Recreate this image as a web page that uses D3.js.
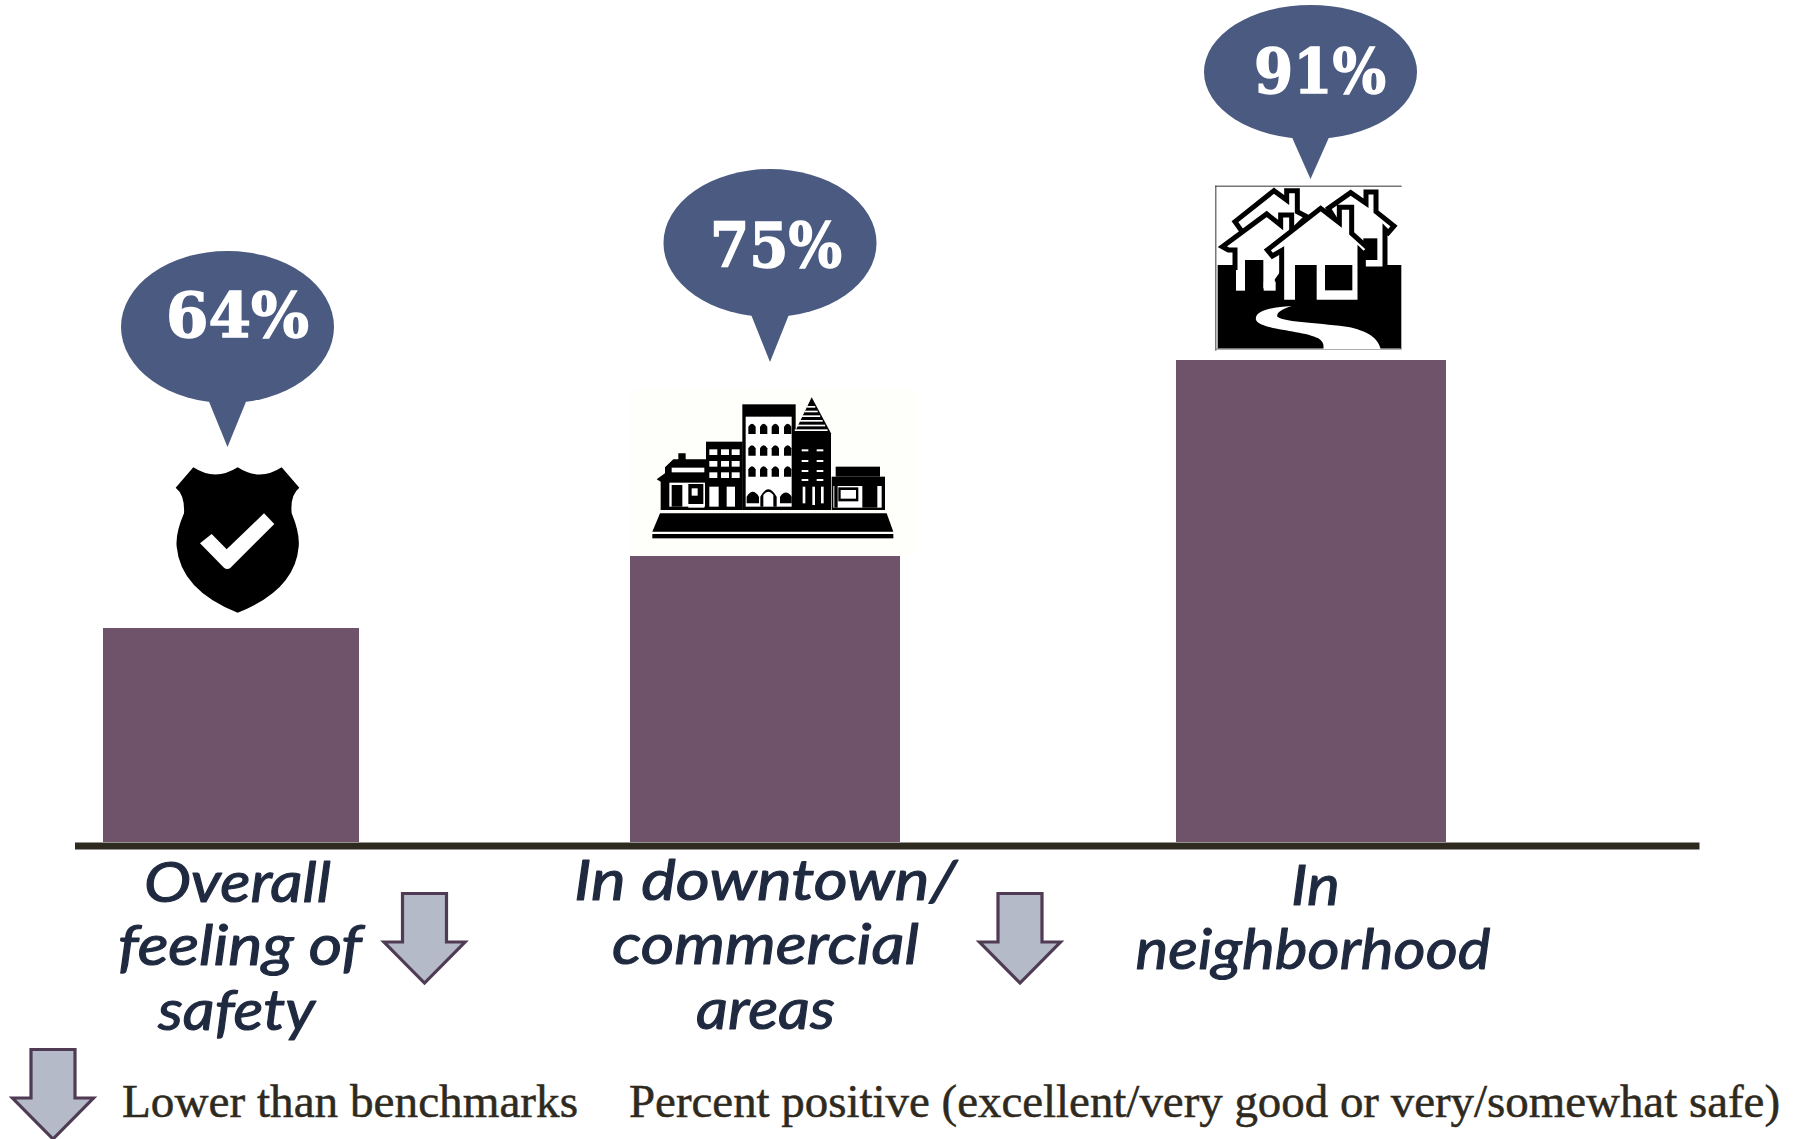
<!DOCTYPE html>
<html><head><meta charset="utf-8">
<script src="https://cdn.jsdelivr.net/npm/d3@7"></script>
<style>html,body{margin:0;padding:0;background:#fff;overflow:hidden}svg{display:block}</style>
</head><body><div id="chart"></div>
<script>
// ---- data ----
const categories = ["Overall feeling of safety", "In downtown/ commercial areas", "In neighborhood"];
const categoryLines = [["Overall", "feeling of", "safety"], ["In downtown/", "commercial", "areas"], ["In", "neighborhood"]];
const percentPositive = [64, 75, 91];
const lowerThanBenchmarks = [true, true, false];
const legendArrowLabel = "Lower than benchmarks";
const legendNote = "Percent positive (excellent/very good or very/somewhat safe)";

// ---- layout ----
const W = 1797, H = 1139, baseY = 842;
const svg = d3.select("#chart").append("svg").attr("width", W).attr("height", H);
svg.append("rect").attr("width", W).attr("height", H).attr("fill", "#fff");

// The source bars are pictorial, not proportional: a piecewise scale reproduces their heights.
const y = d3.scaleLinear().domain([0, 64, 75, 91]).range([baseY, 628, 556, 360]);
const xLeft = d3.scaleOrdinal().domain(percentPositive).range([103, 630, 1176]);
const barW = d3.scaleOrdinal().domain(percentPositive).range([256, 270, 270]);

const BAR = "#6f536b", BUBBLE = "#4a5a80", INK = "#1f2a40", TXT = "#2f2a20";
const SERIF_BOLD = "'DejaVu Serif', serif";

// icon backgrounds go first
const icons = svg.append("g");

// bars
svg.append("g").selectAll("rect").data(percentPositive).join("rect")
  .attr("x", d => xLeft(d)).attr("width", d => barW(d))
  .attr("y", d => y(d)).attr("height", d => y(0) - y(d)).attr("fill", BAR);

// axis line
const axisG = svg.append("g").attr("transform", `translate(0,${baseY + 3.5})`)
  .call(d3.axisBottom(d3.scaleLinear().range([74.5, 1699])).ticks(0).tickSize(0).tickSizeOuter(0));
axisG.select("path").attr("stroke", TXT).attr("stroke-width", 7).attr("fill", "none");

// callouts
const bubbleSpec = [
  {cx: 227.5, cy: 327, ry: 76, tail: 120, tx: 237.5, base: 337, tw: 143},
  {cx: 770, cy: 243, ry: 74, tail: 119, tx: 776, base: 267, tw: 132},
  {cx: 1310.5, cy: 72, ry: 67, tail: 107, tx: 1320, base: 93, tw: 132}
];
const bubbles = svg.append("g").selectAll("g").data(percentPositive).join("g")
  .attr("transform", (d, i) => `translate(${bubbleSpec[i].cx},${bubbleSpec[i].cy})`);
bubbles.append("ellipse").attr("rx", 106.5).attr("ry", (d, i) => bubbleSpec[i].ry).attr("fill", BUBBLE);
bubbles.append("path").attr("fill", BUBBLE)
  .attr("d", (d, i) => { const s = bubbleSpec[i]; return `M-20,${s.ry - 5}L20,${s.ry - 5}L0,${s.tail}Z`; });
svg.append("g").selectAll("text").data(percentPositive).join("text")
  .attr("x", (d, i) => bubbleSpec[i].tx).attr("y", (d, i) => bubbleSpec[i].base)
  .attr("text-anchor", "middle").attr("font-family", SERIF_BOLD).attr("font-weight", 700)
  .attr("font-size", 62).attr("fill", "#fff").attr("stroke", "#fff").attr("stroke-width", 1.4)
  .attr("textLength", (d, i) => bubbleSpec[i].tw).attr("lengthAdjust", "spacingAndGlyphs")
  .text(d => d + "%");

// category labels
const labelSpec = [
  [{x: 237.5, b: 902, w: 187}, {x: 240, b: 965, w: 244}, {x: 236.5, b: 1030, w: 157}],
  [{x: 765.5, b: 900, w: 383}, {x: 765.5, b: 964, w: 307}, {x: 765.5, b: 1029, w: 139}],
  [{x: 1315.5, b: 905, w: 49}, {x: 1313, b: 969, w: 355}]
];
categoryLines.forEach((lines, i) => {
  svg.append("g").selectAll("text").data(lines).join("text")
    .attr("x", (d, j) => labelSpec[i][j].x).attr("y", (d, j) => labelSpec[i][j].b)
    .attr("text-anchor", "middle").attr("font-family", "Lato, sans-serif").attr("font-style", "italic")
    .attr("font-size", 56).attr("fill", INK).attr("stroke", INK).attr("stroke-width", 1.1)
    .attr("stroke-linejoin", "round")
    .attr("textLength", (d, j) => labelSpec[i][j].w).attr("lengthAdjust", "spacingAndGlyphs")
    .text(d => d);
});

// benchmark arrows
function arrow(sel, cx, top) {
  const g = sel.append("g").attr("transform", `translate(${cx},${top})`);
  g.append("path").attr("d", "M-22,1.5L22,1.5L22,50L40.5,50L0,91L-40.5,50L-22,50Z")
    .attr("fill", "#b4bac8").attr("stroke", "#4f3b53").attr("stroke-width", 3.2);
}
const arrowX = [424.5, 1020];
lowerThanBenchmarks.forEach((f, i) => { if (f) arrow(svg, arrowX[i], 892); });
arrow(svg, 53, 1048);

// legend
const legend = [{t: legendArrowLabel, x: 122, w: 456}, {t: legendNote, x: 629, w: 1151}];
svg.append("g").selectAll("text").data(legend).join("text")
  .attr("x", d => d.x).attr("y", 1117).attr("font-family", "'Liberation Serif', serif")
  .attr("font-size", 47).attr("fill", TXT).attr("stroke", TXT).attr("stroke-width", 0.5)
  .attr("textLength", d => d.w).attr("lengthAdjust", "spacingAndGlyphs").text(d => d.t);

// ---- pictograms, drawn in local units of 1/3 px and hung off each bar ----
const K = "#000", WH = "#fff";
function pict(dx, dy, i) {
  const d = percentPositive[i];
  return icons.append("g").attr("transform", `translate(${xLeft(d) + dx},${y(d) + dy}) scale(${1 / 3})`);
}
function poly(g, fill, d, extra) { const p = g.append("path").attr("d", d).attr("fill", fill); if (extra) extra(p); return p; }
function rects(g, fill, list) { list.forEach(r => g.append("rect").attr("x", r[0]).attr("y", r[1]).attr("width", r[2]).attr("height", r[3]).attr("fill", fill)); }

// shield
{
  const g = pict(60 - 103, 230 - 628, 0);
  poly(g, K, "M400,712Q466,755 533,712Q600,755 665,712L718,773Q690,795 695,850Q720,910 716,950Q705,1080 533,1148Q362,1080 350,950Q346,910 372,850Q375,795 347,773Z");
  poly(g, WH, "M420,940L455,912L500,958L612,850L643,882L510,1015Q500,1020 492,1013Z");
}
// city block
{
  const g = pict(620 - 630, 380 - 556, 1);
  g.append("rect").attr("x", 30).attr("y", 30).attr("width", 855).attr("height", 498).attr("fill", "#fefefb");
  poly(g, K, "M120,400L800,400L820,455L97,455Z");
  rects(g, K, [[97, 462, 723, 13]]);
  poly(g, K, "M110,298L135,280L135,262L160,238L175,238L175,220L197,220L197,238L262,238L262,390L122,390L122,305Z");
  rects(g, WH, [[155, 263, 98, 14], [148, 308, 107, 72], [205, 375, 48, 8]]);
  rects(g, K, [[155, 315, 32, 65], [205, 312, 45, 60]]);
  rects(g, WH, [[215, 325, 18, 22]]);
  rects(g, K, [[258, 185, 110, 205]]);
  [268, 303, 335].forEach(x => [208, 243, 277].forEach(yy => rects(g, WH, [[x, yy, 24, 17]])));
  rects(g, WH, [[268, 320, 28, 60], [320, 320, 25, 60]]);
  rects(g, K, [[367, 73, 160, 317]]);
  rects(g, WH, [[377, 110, 138, 270]]);
  [385, 420, 455, 492].forEach(x => [130, 195, 258].forEach(yy => {
    poly(g, K, `M${x},${yy + 32}V${yy + 10}Q${x + 11},${yy - 8} ${x + 22},${yy + 10}V${yy + 32}Z`);
  }));
  poly(g, K, "M380,370V350Q398,320 417,350V370Z");
  poly(g, K, "M480,370V350Q498,325 515,350V370Z");
  poly(g, K, "M421,380V350Q445,305 470,350V380H460V345Q445,325 430,345V380Z");
  poly(g, K, "M575,52L633,160L633,390L525,390L525,155Z");
  [78, 92, 106, 120, 134, 148].forEach(yy => {
    const half = (yy - 52) * 0.53;
    rects(g, WH, [[575 - half, yy, 2 * half - 3, 5]]);
  });
  [208, 240, 270, 297].forEach(yy => rects(g, WH, [[545, yy, 20, 6], [590, yy, 20, 6]]));
  rects(g, WH, [[548, 320, 8, 50], [577, 320, 8, 55], [603, 320, 8, 50]]);
  rects(g, K, [[647, 260, 133, 30], [635, 290, 160, 100]]);
  rects(g, WH, [[640, 318, 145, 65]]);
  rects(g, K, [[643, 318, 10, 65], [655, 322, 60, 42], [727, 318, 45, 65]]);
  rects(g, WH, [[662, 330, 46, 26]]);
}
// houses
{
  const g = pict(1190 - 1176, 170 - 360, 2);
  rects(g, "#333", [[75, 47, 560, 3], [76, 47, 3, 495]]);
  rects(g, "#888", [[78, 535, 557, 4], [632, 285, 3, 252]]);
  rects(g, K, [[83, 285, 550, 250]]);
  const house = (d) => poly(g, WH, d, p => p.attr("stroke", K).attr("stroke-width", 15).attr("stroke-linejoin", "miter"));
  house("M415,115L482,68L528,100V66H558V125L612,168L595,188L585,178V297H520V220H480Z");
  rects(g, K, [[520, 205, 42, 65]]);
  house("M135,155L252,62L290,90V62H322V125L350,140L300,190H160Z");
  house("M97,230L230,132L272,165V135H305V190L345,215L262,330V362H135V240L115,240Z");
  rects(g, K, [[165, 270, 55, 92]]);
  rects(g, WH, [[138, 300, 27, 62], [221, 335, 36, 27]]);
  house("M232,240L392,115L448,158V112H485V190L538,238L520,252L510,242V397H275V242L247,258Z");
  rects(g, K, [[315, 285, 65, 112], [405, 285, 82, 76]]);
  poly(g, WH, "M305,408C240,412 192,422 198,450C212,480 340,480 385,505C400,515 402,525 400,537H572C565,510 545,488 480,472C400,458 285,458 262,440C258,425 285,415 305,408Z");
}
</script></body></html>
